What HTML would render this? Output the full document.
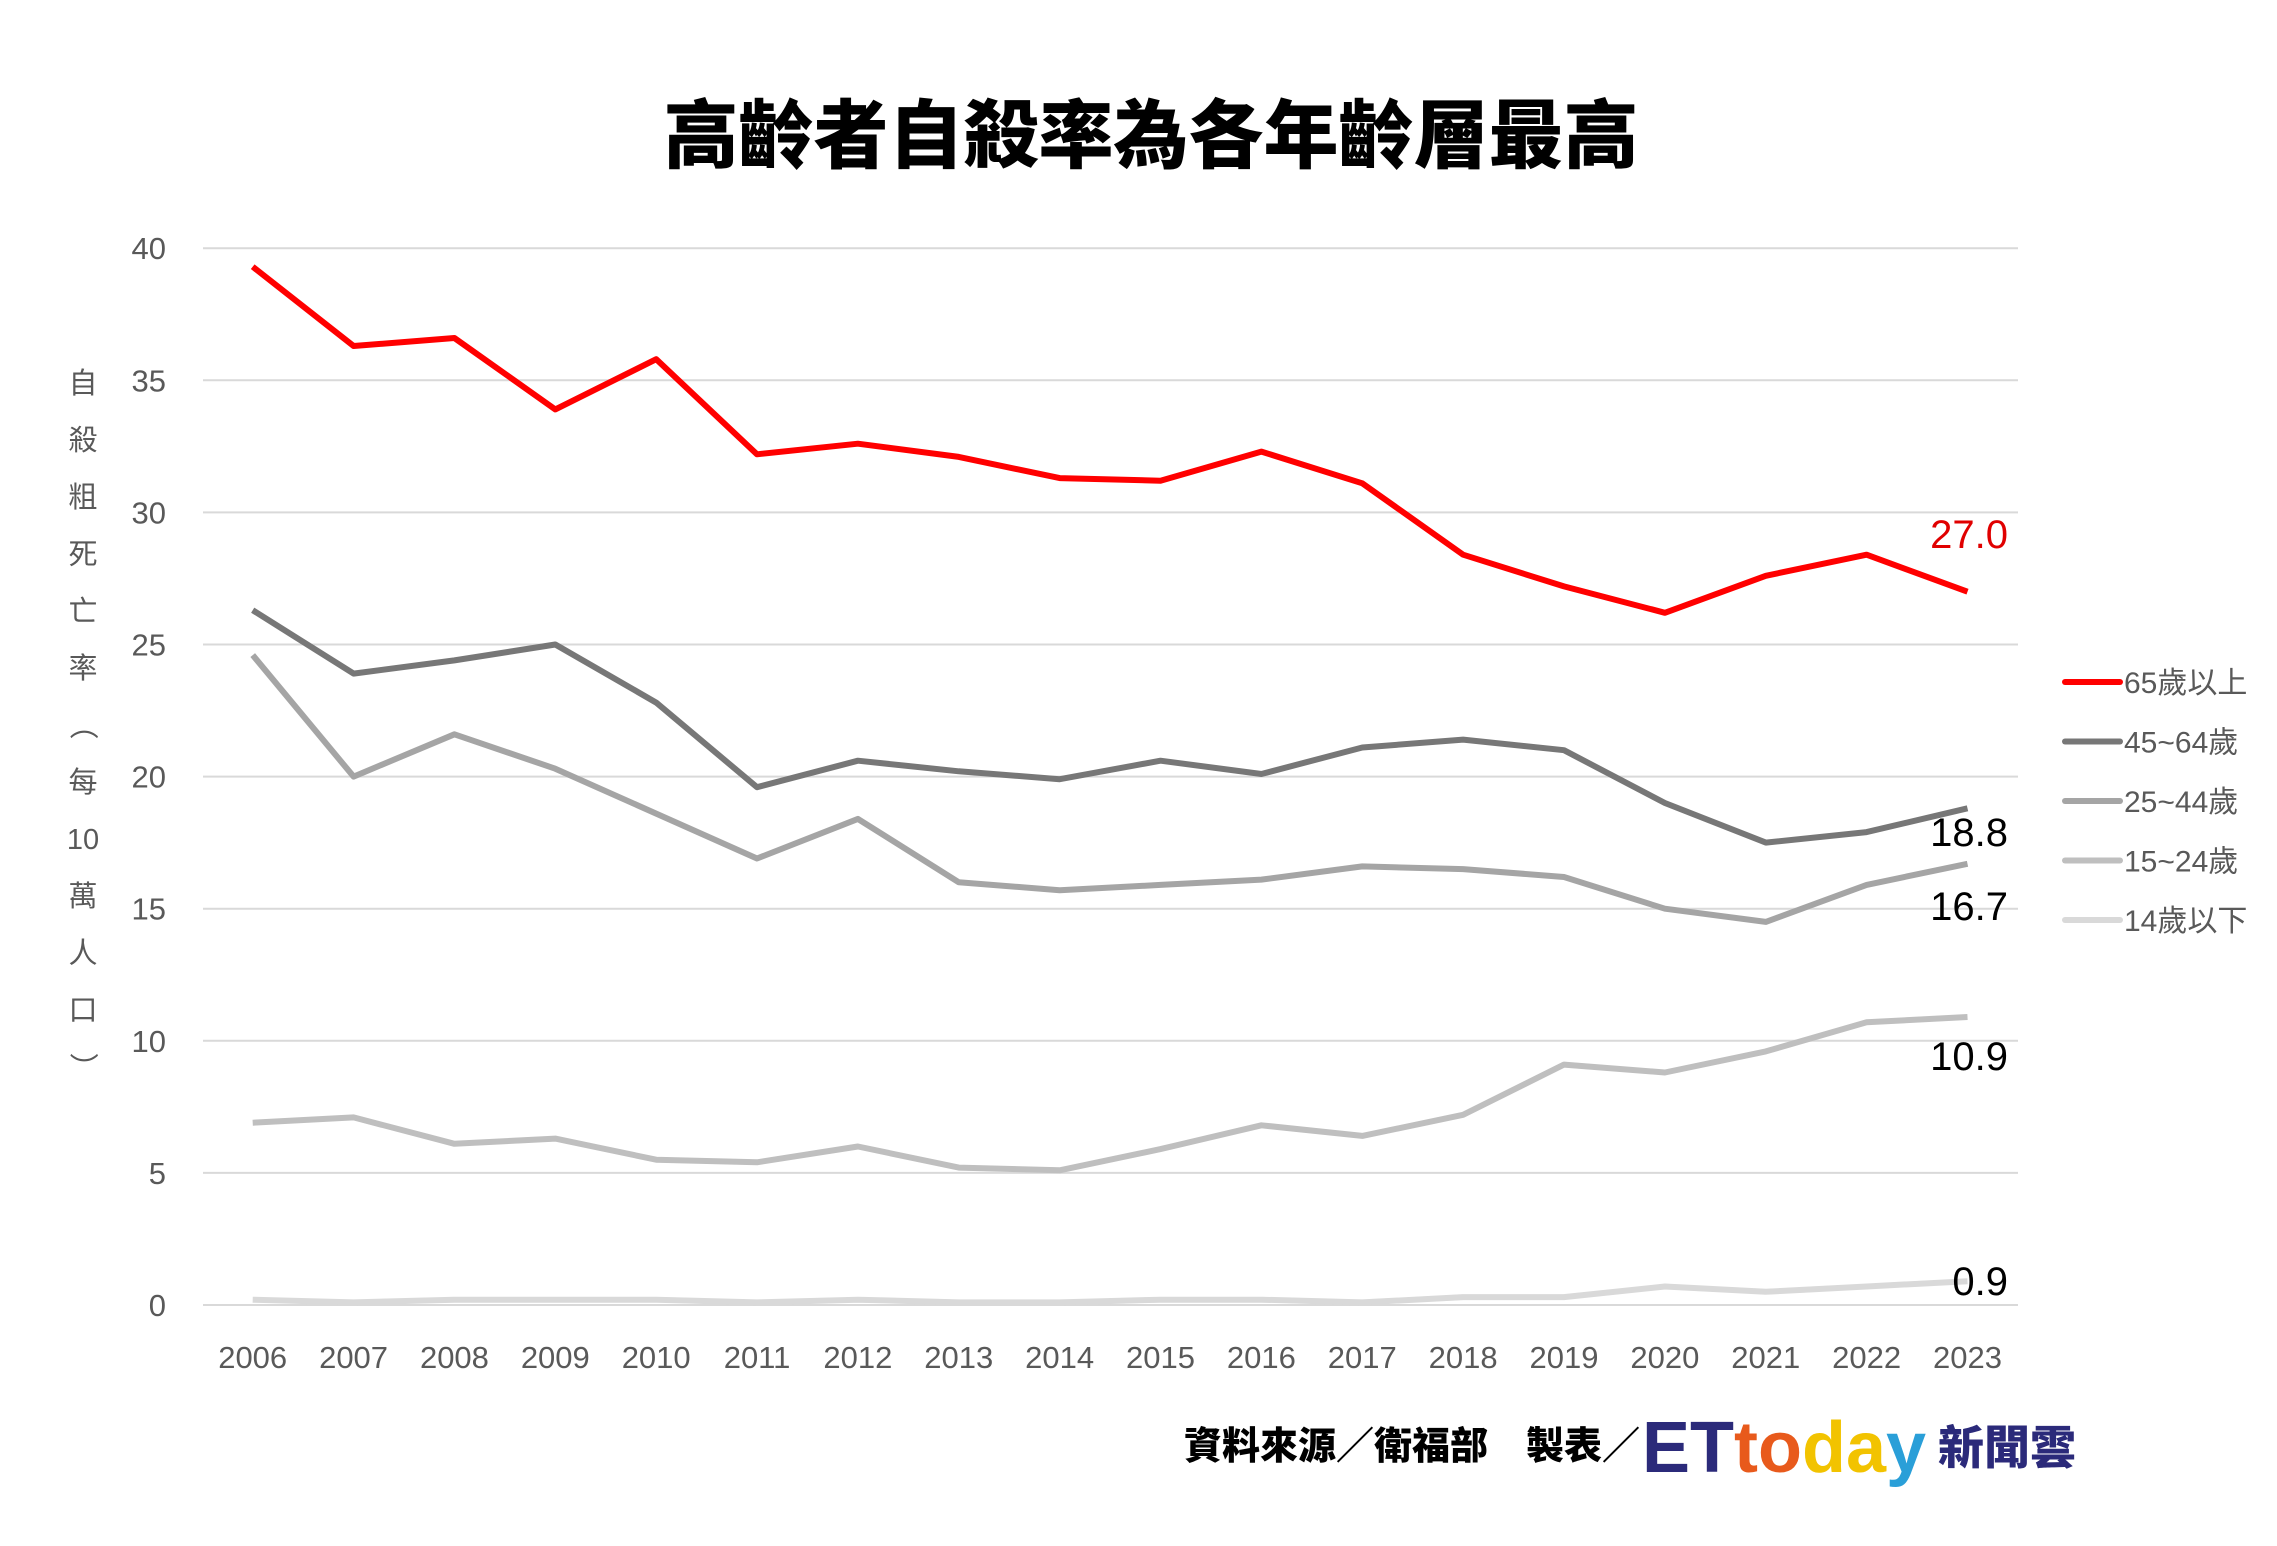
<!DOCTYPE html>
<html><head><meta charset="utf-8">
<style>
html,body{margin:0;padding:0;background:#fff;}
body{width:2277px;height:1541px;overflow:hidden;}
svg text{font-family:"Liberation Sans","Noto Sans CJK TC",sans-serif;}
</style></head>
<body>
<svg id="c" width="2277" height="1541" xmlns="http://www.w3.org/2000/svg">
<text x="1151" y="162" text-anchor="middle" font-size="75" font-weight="900" fill="#000" style="font-family:'Noto Sans CJK TC',sans-serif">高齡者自殺率為各年齡層最高</text>
<g id="grid" stroke="#d9d9d9" stroke-width="2"></g>
<g id="yl" font-size="31" fill="#595959" text-anchor="end"></g>
<g id="xl" font-size="31" fill="#595959" text-anchor="middle"></g>
<g id="ax" font-size="29" fill="#595959" text-anchor="middle" style="font-family:'Noto Sans CJK TC',sans-serif"></g>
<g id="lines" fill="none" stroke-linejoin="round" stroke-width="6"></g>
<g font-size="40" text-anchor="end">
<text x="2008" y="548" fill="#e00000">27.0</text>
<text x="2008" y="846" fill="#000">18.8</text>
<text x="2008" y="920" fill="#000">16.7</text>
<text x="2008" y="1070" fill="#000">10.9</text>
<text x="2008" y="1295" fill="#000">0.9</text>
</g>
<g id="leg" font-size="30" fill="#595959" style="font-family:'Liberation Sans','Noto Sans CJK TC',sans-serif"></g>
<text x="1640" y="1459" text-anchor="end" font-size="38" font-weight="900" fill="#000" style="font-family:'Noto Sans CJK TC',sans-serif">資料來源／衛福部　製表／</text>
<text x="1642" y="1472" font-size="72" font-weight="900" style="font-family:'Liberation Sans',sans-serif"><tspan fill="#2b2a7a">ET</tspan><tspan fill="#e85a1c">to</tspan><tspan fill="#f2c300">da</tspan><tspan fill="#2a9fd8">y</tspan></text>
<text x="1938" y="1464" font-size="46" font-weight="900" fill="#2b2a7a" style="font-family:'Noto Sans CJK TC',sans-serif">新聞雲</text>
</svg>
<script>
var NS="http://www.w3.org/2000/svg";
function el(p,t,a,txt){var e=document.createElementNS(NS,t);for(var k in a)e.setAttribute(k,a[k]);if(txt!=null)e.textContent=txt;document.getElementById(p).appendChild(e);}
var y0=1305,k=26.42,x0=252.7,dx=100.87;
function Y(v){return y0-v*k;}
for(var v=0;v<=40;v+=5){el("grid","line",{x1:203,x2:2018,y1:Y(v),y2:Y(v)});el("yl","text",{x:166,y:Y(v)+11},v);}
for(var i=0;i<18;i++)el("xl","text",{x:x0+i*dx,y:1368},2006+i);
var ax=["自","殺","粗","死","亡","率","（","每","10","萬","人","口","）"];
for(var i=0;i<ax.length;i++)el("ax","text",{x:83,y:393+i*57,transform:ax[i]=="（"||ax[i]=="）"?"rotate(90 83 "+(383+i*57)+")":""},ax[i]);
var S=[
["#d9d9d9","14歲以下",[0.2,0.1,0.2,0.2,0.2,0.1,0.2,0.1,0.1,0.2,0.2,0.1,0.3,0.3,0.7,0.5,0.7,0.9]],
["#bfbfbf","15~24歲",[6.9,7.1,6.1,6.3,5.5,5.4,6.0,5.2,5.1,5.9,6.8,6.4,7.2,9.1,8.8,9.6,10.7,10.9]],
["#a5a5a5","25~44歲",[24.6,20.0,21.6,20.3,18.6,16.9,18.4,16.0,15.7,15.9,16.1,16.6,16.5,16.2,15.0,14.5,15.9,16.7]],
["#777777","45~64歲",[26.3,23.9,24.4,25.0,22.8,19.6,20.6,20.2,19.9,20.6,20.1,21.1,21.4,21.0,19.0,17.5,17.9,18.8]],
["#ff0000","65歲以上",[39.3,36.3,36.6,33.9,35.8,32.2,32.6,32.1,31.3,31.2,32.3,31.1,28.4,27.2,26.2,27.6,28.4,27.0]]];
S.forEach(function(s,j){var p=s[2].map(function(v,i){return (x0+i*dx).toFixed(1)+","+Y(v).toFixed(1)}).join(" ");
el("lines","polyline",{points:p,stroke:s[0]});
var ly=682+(4-j)*59.5;
el("leg","line",{x1:2065,x2:2120,y1:ly,y2:ly,stroke:s[0],"stroke-width":6,"stroke-linecap":"round"});
el("leg","text",{x:2124,y:ly+11},s[1]);});
</script>
</body></html>
